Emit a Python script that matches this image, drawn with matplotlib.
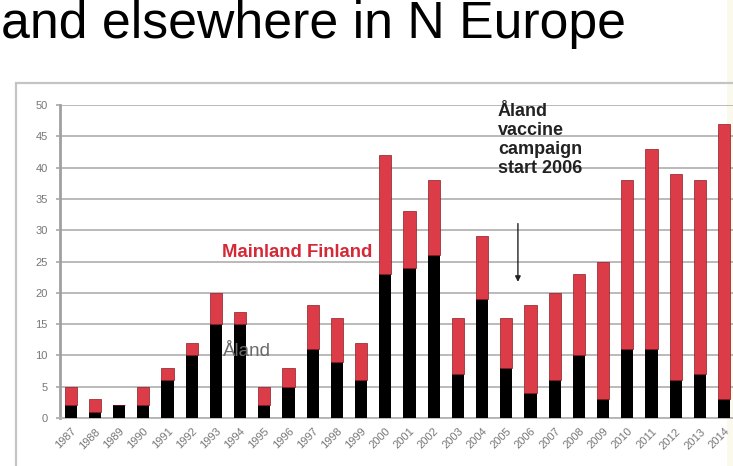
import matplotlib
matplotlib.use("Agg")
import matplotlib.pyplot as plt
from matplotlib.patches import Rectangle

plt.rcParams['font.family'] = ['Liberation Sans', 'DejaVu Sans']

years = [str(y) for y in range(1987, 2015)]
aland = [2, 1, 2, 2, 6, 10, 15, 15, 2, 5, 11, 9, 6, 23, 24, 26, 7, 19, 8, 4, 6, 10, 3, 11, 11, 6, 7, 3]
mainland = [3, 2, 0, 3, 2, 2, 5, 2, 3, 3, 7, 7, 6, 19, 9, 12, 9, 10, 8, 14, 14, 13, 22, 27, 32, 33, 31, 44]
y_ticks = list(range(0, 55, 5))

W, H = 733, 466
fig = plt.figure(figsize=(W / 100, H / 100), dpi=100)

# slide heading
fig.text(0.001, 1 - 38 / H, "and elsewhere in N Europe", fontsize=37.3,
         color='black', ha='left', va='baseline')

# chart frame and slide edge
fig.patches.append(Rectangle((727 / W, 0), 1, 1, transform=fig.transFigure,
                             facecolor='#fbf9ec', edgecolor='none', zorder=-2))
fig.patches.append(Rectangle((16 / W, -0.05), 1.2, 1 - 83 / H + 0.05,
                             transform=fig.transFigure, fill=False,
                             edgecolor='#c4c4c4', linewidth=1.6, zorder=-1))

ax = fig.add_axes([60 / W, 1 - 418 / H, (W - 60) / W, (418 - 105) / H])
ax.set_facecolor('none')
x = list(range(len(years)))
bw = 0.51
ax.bar(x, aland, width=bw, color='black', zorder=3)
ax.bar(x, mainland, width=bw, bottom=aland, color='#dc3c48',
       edgecolor='#8c1c24', linewidth=0.5, zorder=3)

ax.set_xlim(-10.7 / 24.2, (W - 70.7) / 24.2)
ax.set_ylim(0, 50)
ax.set_yticks(y_ticks)
ax.set_yticklabels([str(v) for v in y_ticks], fontsize=8, color='#777777')
ax.set_xticks(x)
ax.set_xticklabels(years, rotation=45, ha='right', rotation_mode='anchor',
                   fontsize=8, color='#777777')
ax.tick_params(axis='x', length=0, pad=6)
ax.tick_params(axis='y', length=3, width=1.2, color='#a8a8a8', pad=6)
ax.grid(axis='y', color='#b4b4b4', linewidth=1.3, zorder=0)
ax.set_axisbelow(True)
for side in ('top', 'right'):
    ax.spines[side].set_visible(False)
ax.spines['left'].set_color('#a0a0a0')
ax.spines['left'].set_linewidth(2)
ax.spines['bottom'].set_color('#b4b4b4')
ax.spines['bottom'].set_linewidth(1.3)

# series labels
ax.text(6.25, 26.4, "Mainland Finland", fontsize=13.3, fontweight='bold',
        color='#d42a38', ha='left', va='center', zorder=5)
ax.text(6.3, 10.6, "Åland", fontsize=13.5, color='#6a6a6a',
        ha='left', va='center', zorder=5)

# vaccination campaign note with arrow
ax.text(17.65, 50.3, "Åland\nvaccine\ncampaign\nstart 2006", fontsize=13,
        fontweight='bold', color='#222222', ha='left', va='top',
        linespacing=1.15, zorder=5)
ax.annotate("", xy=(18.48, 21.3), xytext=(18.48, 31.5),
            arrowprops=dict(arrowstyle='-|>', color='#222222', lw=1,
                            mutation_scale=8), zorder=5)

fig.savefig("out.png", dpi=100)
